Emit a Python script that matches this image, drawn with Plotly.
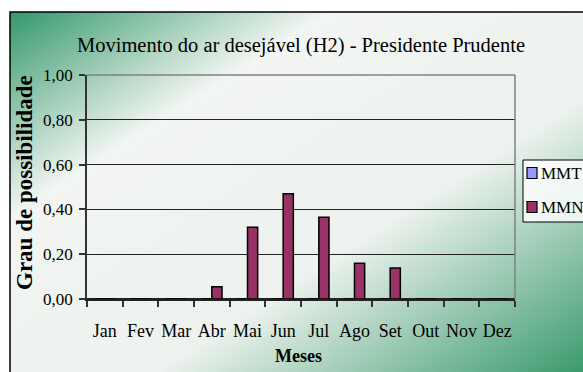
import base64
import plotly.graph_objects as go

months = ["Jan", "Fev", "Mar", "Abr", "Mai", "Jun", "Jul", "Ago", "Set", "Out", "Nov", "Dez"]
mmt = [0, 0, 0, 0, 0, 0, 0, 0, 0, 0, 0, 0]
mmn = [0, 0, 0, 0.055, 0.32, 0.47, 0.365, 0.16, 0.138, 0, 0, 0]
series_names = ["MMT", "MMN"]
series_colors = ["#9999ff", "#993366"]

W, H = 583, 372
ML, MR, MT, MB = 87, 68, 75, 73
PW, PH = W - ML - MR, H - MT - MB

def px(xp):
    return (xp - ML) / PW

def py(yp):
    return (H - MB - yp) / PH

FONT = "'Liberation Serif', 'Times New Roman', 'DejaVu Serif', serif"

svg = ('<svg xmlns="http://www.w3.org/2000/svg" width="600" height="400" preserveAspectRatio="none">'
       '<defs><linearGradient id="g" x1="0" y1="0" x2="1" y2="1">'
       '<stop offset="0" stop-color="#34986a"/>'
       '<stop offset="0.27" stop-color="#f2f5f2"/>'
       '<stop offset="0.6" stop-color="#edf2ee"/>'
       '<stop offset="1" stop-color="#289160"/>'
       '</linearGradient></defs><rect width="600" height="400" fill="url(#g)"/></svg>')
src = "data:image/svg+xml;base64," + base64.b64encode(svg.encode()).decode()

fig = go.Figure()
for name, vals, col in zip(series_names, [mmt, mmn], series_colors):
    fig.add_trace(go.Bar(x=months, y=vals, name=name, marker=dict(color=col, line=dict(color="black", width=1.5)),
                         showlegend=False))

fx0, fy0, fx1, fy1 = 10, 12, 600, 390
shapes = [
    dict(type="rect", xref="paper", yref="paper", x0=px(fx0), x1=px(fx1), y0=py(fy1), y1=py(fy0),
         line=dict(color="black", width=1.5), layer="above"),
    dict(type="line", xref="paper", yref="paper", x0=0, x1=1, y0=1, y1=1, line=dict(color="#808080", width=1.5)),
    dict(type="line", xref="paper", yref="paper", x0=1, x1=1, y0=0, y1=1, line=dict(color="#808080", width=1.5)),
    dict(type="rect", xref="paper", yref="paper", x0=px(523), x1=px(600), y0=py(222), y1=py(160),
         line=dict(color="black", width=1), fillcolor="rgba(255,255,255,0.8)"),
]
annotations = []
for i, (name, col) in enumerate(zip(series_names, series_colors)):
    yc = 173 + i * 34
    shapes.append(dict(type="rect", xref="paper", yref="paper", x0=px(527), x1=px(537), y0=py(yc + 5.5), y1=py(yc - 5.5),
                       line=dict(color="black", width=1.2), fillcolor=col))
    annotations.append(dict(text=name, xref="paper", yref="paper", x=px(539), y=py(yc), xanchor="left", yanchor="middle",
                            showarrow=False, font=dict(family=FONT, size=17, color="black")))

annotations.append(dict(text="<b>Grau de possibilidade</b>", xref="paper", yref="paper", x=px(24), y=py(183),
                        textangle=-90, showarrow=False, xanchor="center", yanchor="middle",
                        font=dict(family=FONT, size=23, color="black")))
annotations.append(dict(text="<b>Meses</b>", xref="paper", yref="paper", x=px(298.5), y=py(356),
                        showarrow=False, xanchor="center", yanchor="middle",
                        font=dict(family=FONT, size=18, color="black")))

fig.update_layout(
    width=W, height=H, margin=dict(l=ML, r=MR, t=MT, b=MB),
    paper_bgcolor="white", plot_bgcolor="rgba(0,0,0,0)",
    separators=",.",
    barmode="group", bargap=0.43, bargroupgap=0,
    title=dict(text="Movimento do ar desejável (H2) - Presidente Prudente", x=0.5, xref="paper",
               y=1 - 45 / H, yref="container", xanchor="center", yanchor="middle",
               font=dict(family=FONT, size=20.5, color="black")),
    images=[dict(source=src, xref="paper", yref="paper", x=px(fx0), y=py(fy0), sizex=px(fx1) - px(fx0),
                 sizey=py(fy0) - py(fy1), xanchor="left", yanchor="top", sizing="stretch", layer="below")],
    shapes=shapes, annotations=annotations,
)
fig.update_yaxes(range=[0, 1], tickvals=[0, 0.2, 0.4, 0.6, 0.8, 1.0], tickformat=".2f",
                 showgrid=True, gridcolor="#222222", gridwidth=1,
                 showline=True, linecolor="#333333", linewidth=1.5,
                 ticks="outside", ticklen=6, tickcolor="#333333", tickwidth=1.5,
                 zeroline=True, zerolinecolor="#222222", zerolinewidth=1.5,
                 tickfont=dict(family=FONT, size=17, color="black"), ticklabelstandoff=3)
fig.update_xaxes(showline=True, linecolor="#222222", linewidth=1.5, tickson="boundaries", tickangle=0,
                 ticks="outside", ticklen=6, tickcolor="#333333", tickwidth=1.5, showgrid=False,
                 tickfont=dict(family=FONT, size=18, color="black"), ticklabelstandoff=15)

fig.write_html("out.html")
